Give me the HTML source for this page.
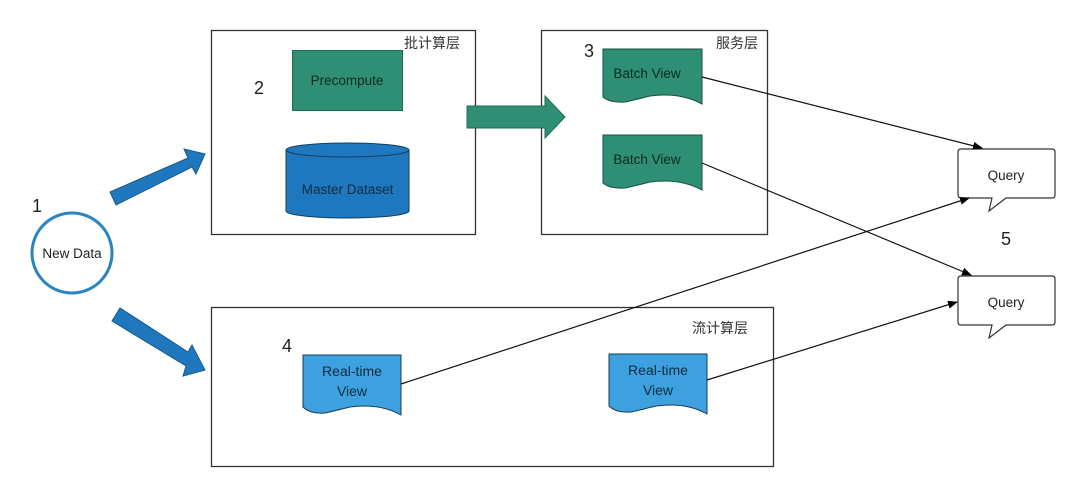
<!DOCTYPE html>
<html><head><meta charset="utf-8"><style>
html,body{margin:0;padding:0;background:#fff;}
svg{display:block;}
text{font-family:"Liberation Sans","Noto Sans CJK SC",sans-serif;}
</style></head><body>
<svg width="1080" height="491" viewBox="0 0 1080 491" xmlns="http://www.w3.org/2000/svg">
<defs>
<marker id="ah" markerWidth="10" markerHeight="8" refX="9" refY="4" orient="auto" markerUnits="userSpaceOnUse">
<path d="M0,0 L10,4 L0,8 Z" fill="#000"/></marker>
</defs>
<rect width="1080" height="491" fill="#fff"/>
<!-- boxes -->
<rect x="211.5" y="30.5" width="264" height="204" fill="none" stroke="#333" stroke-width="1.3"/>
<rect x="541.5" y="30.5" width="226" height="204" fill="none" stroke="#333" stroke-width="1.3"/>
<rect x="211.5" y="307.5" width="562" height="159" fill="none" stroke="#333" stroke-width="1.3"/>
<text x="404" y="48" font-size="14" fill="#333">批计算层</text>
<text x="716" y="48" font-size="14" fill="#333">服务层</text>
<text x="692" y="333" font-size="14" fill="#333">流计算层</text>
<!-- numbers -->
<text x="32" y="212" font-size="18" fill="#222">1</text>
<text x="254" y="94" font-size="18" fill="#222">2</text>
<text x="584" y="57" font-size="18" fill="#222">3</text>
<text x="282" y="352" font-size="18" fill="#222">4</text>
<text x="1001" y="245" font-size="18" fill="#222">5</text>
<!-- New Data circle -->
<circle cx="72" cy="253" r="40" fill="#fff" stroke="#2a84c0" stroke-width="3"/>
<text x="72" y="258" font-size="13.5" text-anchor="middle" fill="#222">New Data</text>
<!-- blue arrows -->
<g fill="#1f78bd" stroke="#1a5b8c" stroke-width="1">
<polygon points="110,192 188,158 184,149 205,154 196,174 192,167 116,205"/>
<polygon points="112,321 120,308 188,352 192,345 205,370 183,376 186,366"/>
</g>
<!-- precompute -->
<rect x="292.5" y="50.5" width="110" height="60" fill="#2e8f75" stroke="#1f6b56"/>
<text x="347" y="85" font-size="13.5" text-anchor="middle" fill="#102a22">Precompute</text>
<!-- cylinder -->
<path d="M286,150 V211 A61.5,7 0 0 0 409,211 V150" fill="#1f78bd" stroke="#123e60" stroke-width="1"/>
<ellipse cx="347.5" cy="150" rx="61.5" ry="7" fill="#1f78bd" stroke="#123e60" stroke-width="1"/>
<text x="347.5" y="194" font-size="13.5" text-anchor="middle" fill="#0e2c44">Master Dataset</text>
<!-- green arrow -->
<polygon points="467,106 545,106 545,96 565,117 545,138 545,128 467,128" fill="#2e8f75" stroke="#1f6b56"/>
<!-- batch views -->
<g fill="#2e8f75" stroke="#1a4d40" stroke-width="1">
<path d="M603,49 H702 V104 Q680,92 650,96 Q630,101 625,102 Q610,103 603,97 Z"/>
<path d="M603,135 H702 V190 Q680,178 650,182 Q630,187 625,188 Q610,189 603,183 Z"/>
</g>
<text x="647" y="78" font-size="13.5" text-anchor="middle" fill="#0d2a22">Batch View</text>
<text x="647" y="164" font-size="13.5" text-anchor="middle" fill="#0d2a22">Batch View</text>
<!-- realtime views -->
<g fill="#3ca1de" stroke="#163d58" stroke-width="1">
<path d="M303,355 H401 V415 Q380,403 350,407 Q330,412 325,413 Q310,414 303,407 Z"/>
<path d="M609,354 H707 V414 Q686,402 656,406 Q636,411 631,412 Q616,413 609,406 Z"/>
</g>
<text x="352" y="376" font-size="14" text-anchor="middle" fill="#0e2c44">Real-time</text>
<text x="352" y="396" font-size="14" text-anchor="middle" fill="#0e2c44">View</text>
<text x="658" y="375" font-size="14" text-anchor="middle" fill="#0e2c44">Real-time</text>
<text x="658" y="395" font-size="14" text-anchor="middle" fill="#0e2c44">View</text>
<!-- query bubbles -->
<g fill="#fff" stroke="#333" stroke-width="1.2">
<path d="M961,149 H1052 Q1055,149 1055,152 V195 Q1055,198 1052,198 H1006 L989,211 L992,198 H961 Q958,198 958,195 V152 Q958,149 961,149 Z"/>
<path d="M961,276 H1052 Q1055,276 1055,279 V322 Q1055,325 1052,325 H1006 L989,338 L992,325 H961 Q958,325 958,322 V279 Q958,276 961,276 Z"/>
</g>
<text x="1006" y="180" font-size="13.5" text-anchor="middle" fill="#222">Query</text>
<text x="1006" y="307" font-size="13.5" text-anchor="middle" fill="#222">Query</text>
<!-- connectors -->
<g stroke="#111" stroke-width="1.2" fill="none" marker-end="url(#ah)">
<line x1="702" y1="77" x2="982" y2="148"/>
<line x1="702" y1="163" x2="971" y2="275"/>
<line x1="401" y1="384" x2="969" y2="198"/>
<line x1="707" y1="380" x2="957" y2="302"/>
</g>
</svg>
</body></html>
